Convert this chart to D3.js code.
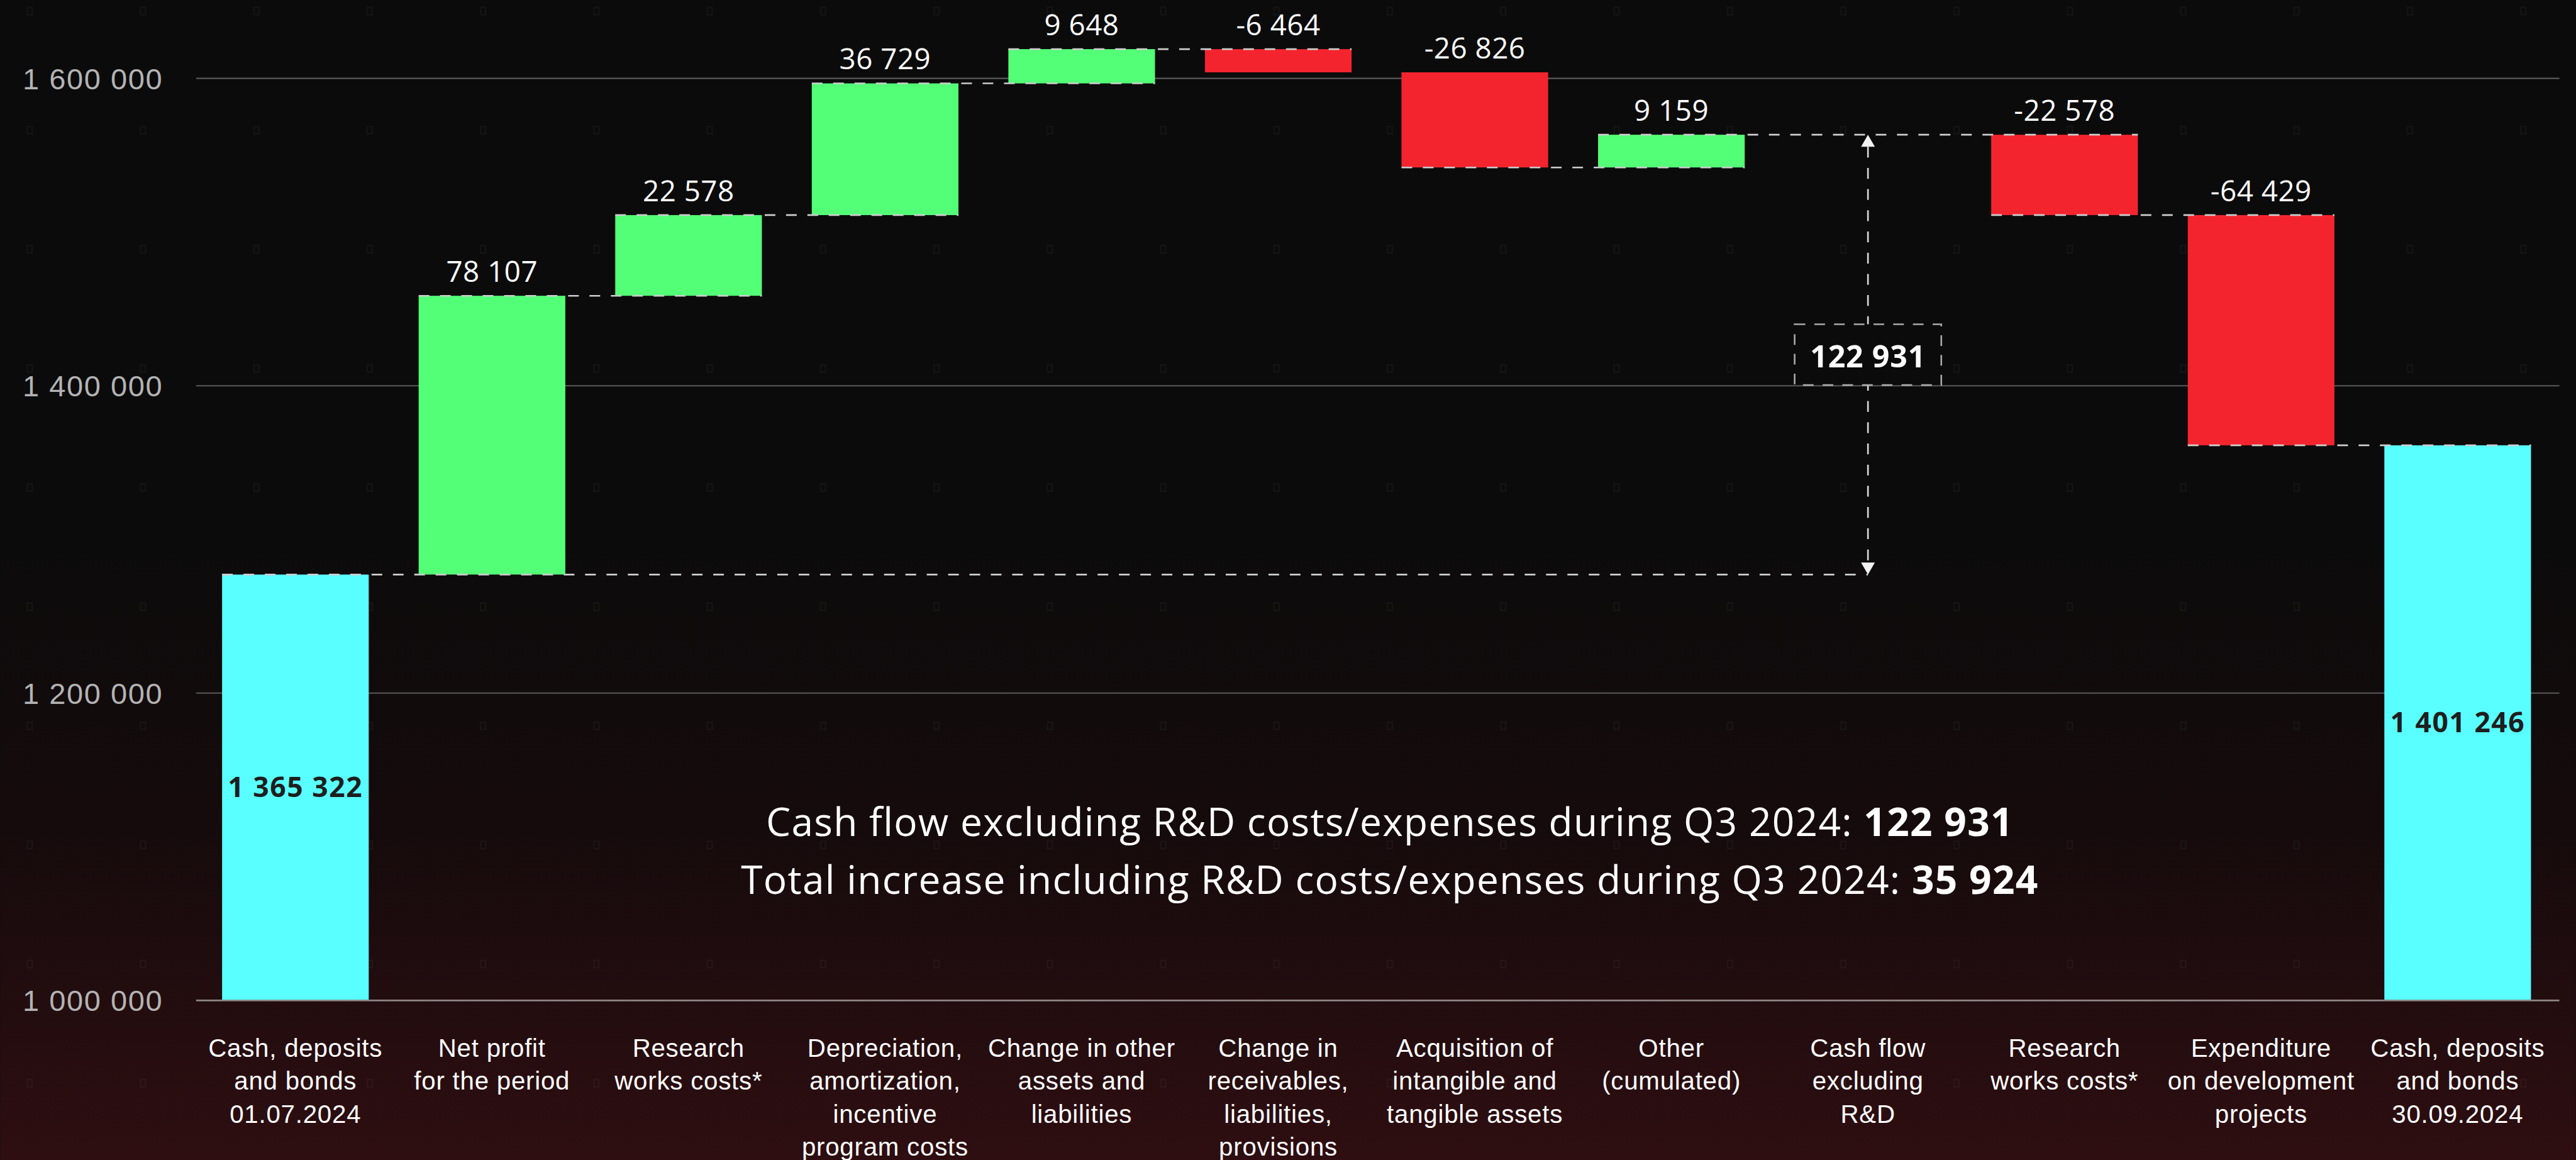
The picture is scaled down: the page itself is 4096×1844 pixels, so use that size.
<!DOCTYPE html>
<html lang="en">
<meta charset="utf-8">
<style>
body { margin: 0; background: #0b0b0b; }
svg { display: block; font-family: "Open Sans", sans-serif; }
.domain { display: none; }
.grid line { stroke: #5a5a5a; stroke-width: 0.8; }
.grid .base line { stroke: #8e8686; stroke-width: 1.1; }
.grid text { fill: #b3b3b3; font-size: 18px; letter-spacing: 0.6px; }
.link { stroke: #cdcdcd; stroke-width: 1; stroke-dasharray: 6.5 6.5; fill: none; }
.cat text { fill: #fff; font-size: 15.4px; text-anchor: middle; letter-spacing: 0.3px; }
.value { fill: #fff; font-size: 17.5px; text-anchor: middle; letter-spacing: 0.2px; }
.total { fill: #1e1e1e; font-size: 17px; font-weight: 700; text-anchor: middle; letter-spacing: 0.6px; }
</style>
<body>
<svg width="4096" height="1844" viewBox="0 0 1568 706"></svg>
<script src="https://d3js.org/d3.v7.min.js"></script>
<script>

var categories = [
  ["Cash, deposits", "and bonds", "01.07.2024"],
  ["Net profit", "for the period"],
  ["Research", "works costs*"],
  ["Depreciation,", "amortization,", "incentive", "program costs"],
  ["Change in other", "assets and", "liabilities"],
  ["Change in", "receivables,", "liabilities,", "provisions"],
  ["Acquisition of", "intangible and", "tangible assets"],
  ["Other", "(cumulated)"],
  ["Cash flow", "excluding", "R&D"],
  ["Research", "works costs*"],
  ["Expenditure", "on development", "projects"],
  ["Cash, deposits", "and bonds", "30.09.2024"]
];

var valueLabels = ["1 365 322", "78 107", "22 578", "36 729", "9 648", "-6 464",
                   "-26 826", "9 159", "", "-22 578", "-64 429", "1 401 246"];

var kinds = ["total", "step", "step", "step", "step", "step",
             "step", "step", "span", "step", "step", "total"];

// where each bar starts and ends
var levelFrom = [1000000, 1276600, 1458000, 1510500, 1596200, 1618500,
                 1603400, 1541500, 1276600, 1562800, 1510500, 1000000];
var levelTo   = [1276600, 1458000, 1510500, 1596200, 1618500, 1603400,
                 1541500, 1562800, 1562800, 1510500, 1360700, 1360700];

var yTicks = [1000000, 1200000, 1400000, 1600000];

// dashed connectors: [bar whose end level is used, first column, last column]
var links = [[0, 0, 8], [1, 1, 2], [2, 2, 3], [3, 3, 4], [4, 4, 5],
             [6, 6, 7], [7, 7, 9], [9, 9, 10], [10, 10, 11]];

var spanLabel = "122 931";

var summary = [
  ["Cash flow excluding R&D costs/expenses during Q3 2024: ", "122 931"],
  ["Total increase including R&D costs/expenses during Q3 2024: ", "35 924"]
];

var colors = { total: "#59ffff", up: "#52ff76", down: "#f4242e" };

var svg = d3.select("svg"),
    W = 1568, H = 706;

// background
var defs = svg.append("defs");
var grad = defs.append("linearGradient")
    .attr("id", "bg").attr("x1", 0).attr("y1", 0).attr("x2", 0).attr("y2", 1);
grad.append("stop").attr("offset", 0).attr("stop-color", "#0b0b0b");
grad.append("stop").attr("offset", 0.45).attr("stop-color", "#0b0b0b");
grad.append("stop").attr("offset", 0.72).attr("stop-color", "#160b0c");
grad.append("stop").attr("offset", 1).attr("stop-color", "#2e0e11");

var pat = defs.append("pattern")
    .attr("id", "marks").attr("patternUnits", "userSpaceOnUse")
    .attr("x", 16).attr("y", 4).attr("width", 69).attr("height", 72.5);
pat.append("rect")
    .attr("x", 0.5).attr("y", 0.5).attr("width", 3).attr("height", 4.5)
    .attr("fill", "none").attr("stroke", "#ffffff").attr("stroke-opacity", 0.045)
    .attr("stroke-width", 0.7);

svg.append("rect").attr("width", W).attr("height", H).attr("fill", "url(#bg)");
svg.append("rect").attr("width", W).attr("height", H).attr("fill", "url(#marks)");

var x = d3.scaleBand()
    .domain(d3.range(categories.length))
    .range([119.9, 1555.9])
    .paddingInner(0.254)
    .paddingOuter(0.127);

var y = d3.scaleLinear()
    .domain([1000000, 1600000])
    .range([608.4, 47.2]);

var gridLeft = 119.3, gridRight = 1558;

var fmt = function(v) { return d3.format(",")(v).replace(/,/g, " "); };

// y axis + gridlines
var gy = svg.append("g")
    .attr("class", "grid")
    .attr("transform", "translate(" + gridLeft + ",0)")
    .call(d3.axisLeft(y)
        .tickValues(yTicks)
        .tickSize(-(gridRight - gridLeft))
        .tickPadding(20.2)
        .tickFormat(fmt));
gy.selectAll(".tick").classed("base", function(d) { return d === y.domain()[0]; });
gy.selectAll("text").attr("dy", "0.36em");

// category labels
var gx = svg.append("g")
    .attr("class", "cat")
    .attr("transform", "translate(0,643.3)")
    .call(d3.axisBottom(x).tickSize(0).tickFormat(""));
gx.selectAll(".tick text").remove();
gx.selectAll(".tick").append("text")
    .each(function(i) {
      d3.select(this).selectAll("tspan")
        .data(categories[i])
        .enter().append("tspan")
          .attr("x", 0)
          .attr("y", function(d, k) { return k * 20; })
          .text(function(d) { return d; });
    });

// bars
var bars = d3.range(categories.length).filter(function(i) { return kinds[i] !== "span"; });

svg.append("g").selectAll("rect")
    .data(bars)
    .enter().append("rect")
      .attr("x", function(i) { return x(i); })
      .attr("width", x.bandwidth())
      .attr("y", function(i) { return y(Math.max(levelFrom[i], levelTo[i])); })
      .attr("height", function(i) { return Math.abs(y(levelFrom[i]) - y(levelTo[i])); })
      .attr("fill", function(i) {
        if (kinds[i] === "total") return colors.total;
        return levelTo[i] > levelFrom[i] ? colors.up : colors.down;
      });

// dashed connectors
svg.append("g").selectAll("line")
    .data(links)
    .enter().append("line")
      .attr("class", "link")
      .attr("x1", function(d) { return x(d[1]); })
      .attr("x2", function(d) {
        return kinds[d[2]] === "span" ? x(d[2]) + x.bandwidth() / 2 : x(d[2]) + x.bandwidth();
      })
      .attr("y1", function(d) { return y(levelTo[d[0]]); })
      .attr("y2", function(d) { return y(levelTo[d[0]]); });

// value labels
svg.append("g").selectAll("text")
    .data(bars)
    .enter().append("text")
      .attr("class", function(i) { return kinds[i] === "total" ? "total" : "value"; })
      .attr("x", function(i) { return x(i) + x.bandwidth() / 2; })
      .attr("y", function(i) {
        var top = y(Math.max(levelFrom[i], levelTo[i]));
        if (kinds[i] === "total") return (top + y(levelFrom[i])) / 2;
        return top - 8.5;
      })
      .attr("dy", function(i) { return kinds[i] === "total" ? "0.36em" : 0; })
      .text(function(i) { return valueLabels[i]; });

// span arrow with boxed value
var si = kinds.indexOf("span"),
    sx = x(si) + x.bandwidth() / 2,
    sTop = y(levelTo[si]),
    sBot = y(levelFrom[si]),
    sMid = (sTop + sBot) / 2,
    head = 7.3, hw = 4.2, boxH = 37;

var ga = svg.append("g");
ga.append("line")
    .attr("x1", sx).attr("x2", sx)
    .attr("y1", sTop + head).attr("y2", sBot - head)
    .attr("stroke", "#d8d8d8").attr("stroke-width", 1)
    .attr("stroke-dasharray", "6.6 6.3");
ga.append("path")
    .attr("d", d3.line()([[sx, sTop], [sx - hw, sTop + head], [sx + hw, sTop + head]]) + "Z")
    .attr("fill", "#f2f2f2");
ga.append("path")
    .attr("d", d3.line()([[sx, sBot], [sx - hw, sBot - head], [sx + hw, sBot - head]]) + "Z")
    .attr("fill", "#f2f2f2");
ga.append("rect")
    .attr("x", x(si)).attr("width", x.bandwidth())
    .attr("y", sMid - boxH / 2).attr("height", boxH)
    .attr("fill", "#0b0b0b")
    .attr("stroke", "#a8a8a8").attr("stroke-width", 1)
    .attr("stroke-dasharray", "6.5 5.5");
ga.append("text")
    .attr("x", sx).attr("y", sMid + 7.6)
    .attr("text-anchor", "middle")
    .attr("fill", "#fff")
    .attr("font-size", 18.5)
    .attr("font-weight", 700)
    .attr("letter-spacing", 0.3)
    .text(spanLabel);

// summary lines
var gs = svg.append("g")
    .attr("text-anchor", "middle").attr("fill", "#fff")
    .attr("font-size", 23.8).attr("letter-spacing", 0.5);
gs.selectAll("text")
    .data(summary)
    .enter().append("text")
      .attr("x", 846)
      .attr("y", function(d, k) { return 508.8 + k * 35.4; })
      .each(function(d) {
        var t = d3.select(this);
        t.append("tspan").text(d[0]);
        t.append("tspan").attr("font-weight", 700).text(d[1]);
      });

</script>
</body>
</html>
